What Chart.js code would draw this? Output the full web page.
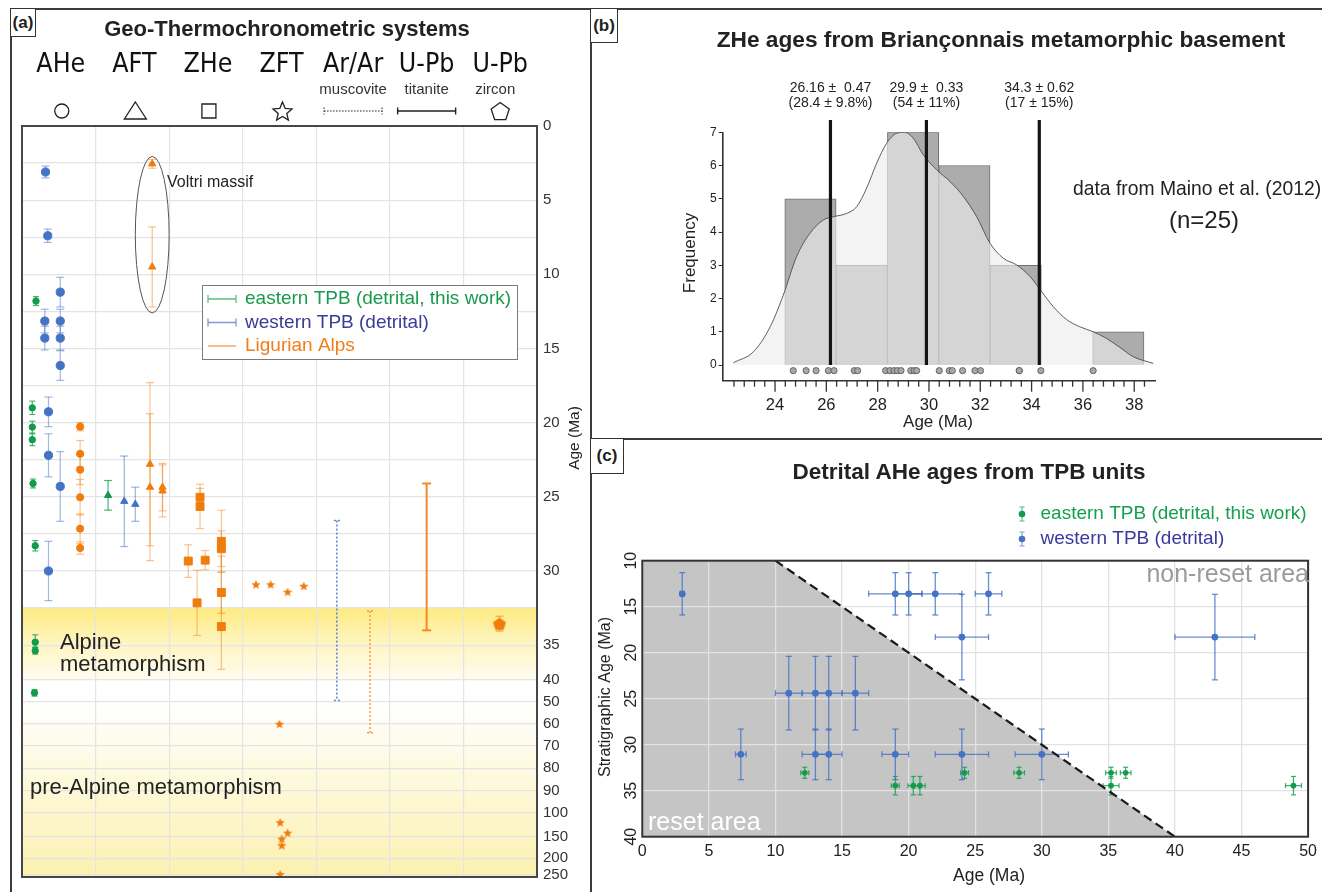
<!DOCTYPE html>
<html>
<head>
<meta charset="utf-8">
<script src="https://cdn.jsdelivr.net/npm/chart.js@4.4.1/dist/chart.umd.min.js"></script>
<style>
  body { margin: 0; width: 1322px; height: 892px; overflow: hidden; position: relative; background: #fff;
         font-family: "Liberation Sans", Arial, sans-serif; color: #222; }
  canvas { position: absolute; }
  .ln { position: absolute; background: #3c3c3c; }
  .box { position: absolute; box-sizing: border-box; border: 1.5px solid #333; background: #fff;
         font: bold 17px "Liberation Sans", Arial, sans-serif; display: flex; align-items: center; justify-content: center; }
  .t { position: absolute; white-space: nowrap; transform: translate(-50%, -50%); }
  .tl { position: absolute; white-space: nowrap; transform-origin: left center; transform: translate(0, -50%) scaleX(0.92); }
</style>
</head>
<body>
<div class="ln" style="left:10px;top:8px;width:1312px;height:2px"></div>
<div class="ln" style="left:10px;top:8px;width:2px;height:884px"></div>
<div class="ln" style="left:590px;top:8px;width:2px;height:884px"></div>
<div class="ln" style="left:590px;top:438px;width:732px;height:2px"></div>

<canvas id="chartA" width="590" height="892" style="left:0;top:0"></canvas>
<canvas id="chartB" width="731" height="430" style="left:591px;top:9px"></canvas>
<canvas id="chartC" width="731" height="453" style="left:591px;top:439px"></canvas>

<div class="box" style="left:10px;top:8px;width:26px;height:29px">(a)</div>
<div class="box" style="left:590px;top:8px;width:28px;height:35px">(b)</div>
<div class="box" style="left:590px;top:438px;width:34px;height:36px">(c)</div>

<div class="t" style="left:287px;top:29px;font-weight:bold;font-size:22px">Geo-Thermochronometric systems</div>
<div class="t" style="left:1001px;top:39px;font-weight:bold;font-size:22.7px">ZHe ages from Briançonnais metamorphic basement</div>
<div class="t" style="left:969px;top:472px;font-weight:bold;font-size:22.5px">Detrital AHe ages from TPB units</div>
<div class="tl" style="left:1073px;top:188px;font-size:21px">data from Maino et al. (2012)</div>
<div class="t" style="left:1204px;top:220px;font-size:24px">(n=25)</div>

<script>
// ---- panel (a): ages per system, [x inside the 7 columns, age Ma, ± Ma] ----
const sysNames = ['AHe', 'AFT', 'ZHe', 'ZFT', 'Ar/Ar', 'U-Pb', 'U-Pb'];
const sysMinerals = ['', '', '', '', 'muscovite', 'titanite', 'zircon'];
const sysSymbols = ['circle', 'triangle', 'rect', 'star', 'dotted', 'solid', 'pentagon'];

const aheEast = [[0.19, 11.8, 0.3], [0.14, 19.0, 0.45], [0.14, 20.3, 0.4], [0.14, 21.15, 0.4], [0.15, 24.1, 0.3],
                 [0.18, 28.3, 0.35], [0.18, 34.8, 0.5], [0.18, 35.8, 0.5], [0.17, 46, 1.5]];
const aheWest = [[0.32, 3.1, 0.4], [0.35, 7.4, 0.45], [0.52, 11.2, 1.0], [0.31, 13.15, 0.8], [0.31, 14.3, 0.8],
                 [0.52, 13.15, 0.8], [0.52, 14.3, 0.8], [0.52, 16.15, 1.0], [0.36, 19.27, 1.0], [0.36, 22.2, 1.45],
                 [0.52, 24.3, 2.35], [0.36, 30.0, 2.0]];
const aheLig = [[0.79, 20.27, 0.28], [0.79, 22.1, 0.9], [0.79, 23.17, 1.0], [0.79, 25.03, 1.2], [0.79, 27.15, 1.0], [0.79, 28.45, 0.42]];
const aftEast = [[1.17, 24.9, 1.0]];
const aftWest = [[1.39, 25.3, 3.05], [1.54, 25.5, 1.15]];
const aftLig = [[1.77, 2.55, 0.3], [1.77, 9.5, 2.7], [1.74, 22.8, 5.5], [1.74, 24.35, 4.95], [1.91, 24.35, 1.6], [1.91, 24.6, 1.75]];
const zheLig = [[2.42, 25.03, 0.6], [2.42, 25.65, 1.5], [2.26, 29.33, 1.1], [2.49, 29.27, 0.65], [2.71, 28.0, 2.1],
                [2.71, 28.5, 1.2], [2.71, 31.45, 1.4], [2.71, 33.75, 4.75], [2.38, 32.15, 2.2]];
const zftLig = [[3.18, 30.9], [3.38, 30.9], [3.61, 31.4], [3.83, 31.0], [3.50, 60], [3.51, 120], [3.61, 142], [3.53, 155], [3.53, 170], [3.51, 247]];
// age ranges [x, from Ma, to Ma]
const arArWest = [[4.28, 26.6, 49.5]];
const arArLig = [[4.73, 32.7, 64]];
const upbTitLig = [[5.50, 24.1, 34.0]];
const upbZrnLig = [[6.49, 33.55, 0.5]];
const ageTicksA = [0, 2.5, 5, 7.5, 10, 12.5, 15, 17.5, 20, 22.5, 25, 27.5, 30, 32.5, 35, 40, 50, 60, 70, 80, 90, 100, 150, 200, 250];

// ---- panel (b): ZHe histogram ----
const binStart = [24.38, 26.38, 28.38, 30.38, 32.38, 34.38, 36.38];
const binCount = [5, 3, 7, 6, 3, 0, 1];
const kdeAge = [22.38, 23.16, 23.81, 24.32, 24.84, 25.36, 25.88, 26.27, 26.79, 27.18, 27.57, 27.96, 28.35, 28.74, 29.06, 29.39,
                29.78, 30.30, 30.82, 31.34, 31.86, 32.38, 32.90, 33.42, 33.94, 34.39, 34.84, 35.36, 35.88, 36.40, 36.92, 37.44, 37.96, 38.74];
const kdeFreq = [0.07, 0.40, 1.15, 2.1, 3.26, 3.96, 4.36, 4.46, 4.56, 4.76, 5.32, 6.07, 6.67, 6.97, 7.0, 6.82,
                 6.32, 5.87, 5.52, 5.07, 4.46, 3.66, 3.21, 3.01, 2.66, 2.21, 1.76, 1.37, 1.15, 1.0, 0.80, 0.53, 0.25, 0.05];
const zheAges = [24.71, 25.21, 25.60, 26.08, 26.30, 27.09, 27.22, 28.31, 28.48, 28.64, 28.77, 28.91, 29.29, 29.42, 29.52,
                 30.40, 30.79, 30.91, 31.31, 31.79, 32.01, 33.52, 33.52, 34.36, 36.40];
const peakAge = [26.16, 29.9, 34.3];
const peakText = ['26.16 ±  0.47', '29.9 ±  0.33', '34.3 ± 0.62'];
const peakProp = ['(28.4 ± 9.8%)', '(54 ± 11%)', '(17 ± 15%)'];
const xTicksB = [24, 26, 28, 30, 32, 34, 36, 38];
const yTicksB = [0, 1, 2, 3, 4, 5, 6, 7];

// ---- panel (c): [AHe age, ±, stratigraphic age, ±] ----
const westTPB = [[3.0, 0.15, 13.6, 2.3], [19.0, 2, 13.6, 2.3], [20.0, 1, 13.6, 2.3], [22.0, 2, 13.6, 2.3], [26.0, 1, 13.6, 2.3],
                 [24.0, 2, 18.3, 4.65], [43.0, 3, 18.3, 4.65],
                 [11.0, 1, 24.4, 4.0], [13.0, 1, 24.4, 4.0], [14.0, 1, 24.4, 4.0], [16.0, 1, 24.4, 4.0],
                 [7.4, 0.4, 31.05, 2.75], [13.0, 1, 31.05, 2.75], [14.0, 1, 31.05, 2.75], [19.0, 1, 31.05, 2.75],
                 [24.0, 2, 31.05, 2.75], [30.0, 2, 31.05, 2.75]];
const eastTPB = [[12.2, 0.3, 33.05, 0.6], [24.2, 0.3, 33.05, 0.6], [28.3, 0.4, 33.05, 0.6], [35.2, 0.4, 33.05, 0.6], [36.3, 0.4, 33.05, 0.6],
                 [19.0, 0.3, 34.45, 1.0], [20.35, 0.4, 34.45, 1.0], [20.85, 0.4, 34.45, 1.0], [35.2, 0.6, 34.45, 1.0], [48.9, 0.6, 34.45, 1.0]];
const resetLine = [[10, 10], [40, 40]];
const xTicksC = [0, 5, 10, 15, 20, 25, 30, 35, 40, 45, 50];
const yTicksC = [10, 15, 20, 25, 30, 35, 40];

const SANS = '"Liberation Sans", Arial, sans-serif';
const GREEN = '#119b4b', BLUE = '#4472c4', ORANGE = '#f07c0c';

function text(ctx, s, x, y, font, color, align, rot) {
  ctx.save();
  ctx.translate(x, y);
  if (rot) ctx.rotate(rot);
  ctx.font = font;
  ctx.fillStyle = color;
  ctx.textAlign = align || 'left';
  ctx.textBaseline = 'middle';
  ctx.fillText(s, 0, 0);
  ctx.restore();
}

function polyPath(ctx, x, y, R, inner) {
  const n = inner ? 10 : 5;
  for (let i = 0; i < n; i++) {
    const r = inner && i % 2 ? R * inner : R;
    const a = -Math.PI / 2 + i * 2 * Math.PI / n;
    if (i === 0) ctx.moveTo(x + r * Math.cos(a), y + r * Math.sin(a));
    else ctx.lineTo(x + r * Math.cos(a), y + r * Math.sin(a));
  }
  ctx.closePath();
}

function markImg(R, inner, color) {
  const c = document.createElement('canvas');
  c.width = c.height = Math.ceil(R * 2 + 2);
  const g = c.getContext('2d');
  g.fillStyle = color;
  g.beginPath();
  polyPath(g, c.width / 2, c.height / 2 + (inner ? 0.5 : 0.7), R, inner);
  g.fill();
  return c;
}
const starImg = markImg(4.8, 0.45, ORANGE);
const pentImg = markImg(6.8, null, ORANGE);

// error bars drawn through the chart scales
const errorBars = {
  id: 'errorBars',
  beforeDatasetsDraw(chart) {
    const ctx = chart.ctx, xs = chart.scales.x, ys = chart.scales.y;
    chart.data.datasets.forEach(ds => {
      if (!ds.errColor) return;
      ctx.save();
      ctx.strokeStyle = ds.errColor;
      ctx.lineWidth = ds.errWidth || 1.2;
      ctx.setLineDash(ds.errDash || []);
      const cap = ds.cap || 3;
      const seg = (x1, y1, x2, y2) => { ctx.beginPath(); ctx.moveTo(x1, y1); ctx.lineTo(x2, y2); ctx.stroke(); };
      ds.data.forEach(p => {
        const px = xs.getPixelForValue(p.x), py = ys.getPixelForValue(p.y);
        const lo = p.lo !== undefined ? p.lo : (p.ye ? p.y - p.ye : null);
        const hi = p.hi !== undefined ? p.hi : (p.ye ? p.y + p.ye : null);
        if (lo !== null) {
          const a = ys.getPixelForValue(lo), b = ys.getPixelForValue(hi);
          seg(px, a, px, b); seg(px - cap, a, px + cap, a); seg(px - cap, b, px + cap, b);
        }
        if (p.xe) {
          const a = xs.getPixelForValue(p.x - p.xe), b = xs.getPixelForValue(p.x + p.xe);
          seg(a, py, b, py); seg(a, py - cap, a, py + cap); seg(b, py - cap, b, py + cap);
        }
      });
      ctx.restore();
    });
  }
};

// broken age axis of panel (a): linear to 35 Ma, compressed below
const BREAK_AGE = [0, 35, 40, 50, 100, 150, 200, 250, 256];
const BREAK_POS = [0, 35, 37.33, 38.8, 46.3, 47.9, 49.37, 50.5, 50.63];
function fold(v) {
  for (let i = 1; i < BREAK_AGE.length; i++) {
    if (v <= BREAK_AGE[i] || i === BREAK_AGE.length - 1) {
      return BREAK_POS[i - 1] + (v - BREAK_AGE[i - 1]) * (BREAK_POS[i] - BREAK_POS[i - 1]) / (BREAK_AGE[i] - BREAK_AGE[i - 1]);
    }
  }
}
function unfold(u) {
  for (let i = 1; i < BREAK_POS.length; i++) {
    if (u <= BREAK_POS[i] || i === BREAK_POS.length - 1) {
      return BREAK_AGE[i - 1] + (u - BREAK_POS[i - 1]) * (BREAK_AGE[i] - BREAK_AGE[i - 1]) / (BREAK_POS[i] - BREAK_POS[i - 1]);
    }
  }
}
class BrokenScale extends Chart.LinearScale {
  getPixelForValue(v) { return this.getPixelForDecimal(fold(v) / fold(this.max)); }
  getValueForPixel(p) { return unfold(this.getDecimalForPixel(p) * fold(this.max)); }
}
BrokenScale.id = 'broken';
BrokenScale.defaults = Chart.LinearScale.defaults;
Chart.register(BrokenScale);

const pts = rows => rows.map(r => ({ x: r[0], y: r[1], ye: r[2] }));
const ranges = rows => rows.map(r => ({ x: r[0], y: (r[1] + r[2]) / 2, lo: r[1], hi: r[2] }));

function drawSym(ctx, kind, x, y) {
  ctx.save();
  ctx.strokeStyle = '#222';
  ctx.lineWidth = 1.3;
  ctx.beginPath();
  if (kind === 'circle') ctx.arc(x, y, 7, 0, Math.PI * 2);
  if (kind === 'triangle') { ctx.moveTo(x, y - 9); ctx.lineTo(x + 11, y + 8); ctx.lineTo(x - 11, y + 8); ctx.closePath(); }
  if (kind === 'rect') ctx.rect(x - 7, y - 7, 14, 14);
  if (kind === 'star') polyPath(ctx, x, y + 1, 10, 0.45);
  if (kind === 'pentagon') polyPath(ctx, x, y + 1, 9.5, null);
  if (kind === 'dotted' || kind === 'solid') {
    ctx.lineWidth = kind === 'solid' ? 1.4 : 1;
    if (kind === 'dotted') ctx.setLineDash([1.5, 1.5]);
    ctx.moveTo(x - 29, y); ctx.lineTo(x + 29, y);
    ctx.moveTo(x - 29, y - 3.5); ctx.lineTo(x - 29, y + 3.5);
    ctx.moveTo(x + 29, y - 3.5); ctx.lineTo(x + 29, y + 3.5);
  }
  ctx.stroke();
  ctx.restore();
}

const decorA = {
  id: 'decorA',
  beforeDraw(chart) {
    const ctx = chart.ctx, ys = chart.scales.y, a = chart.chartArea;
    // Alpine metamorphism band
    let y0 = ys.getPixelForValue(32.5), y1 = ys.getPixelForValue(40);
    let g = ctx.createLinearGradient(0, y0, 0, y1);
    g.addColorStop(0, '#fdeb80'); g.addColorStop(0.5, '#fef5c2'); g.addColorStop(1, '#fffcef');
    ctx.fillStyle = g; ctx.fillRect(a.left, y0, a.right - a.left, y1 - y0);
    // pre-Alpine band
    y0 = ys.getPixelForValue(50); y1 = a.bottom;
    g = ctx.createLinearGradient(0, y0, 0, y1);
    g.addColorStop(0, '#ffffff'); g.addColorStop(1, '#fcf1b0');
    ctx.fillStyle = g; ctx.fillRect(a.left, y0, a.right - a.left, y1 - y0);
  },
  afterDraw(chart) {
    const ctx = chart.ctx, xs = chart.scales.x, ys = chart.scales.y, a = chart.chartArea;
    ctx.save();
    ctx.strokeStyle = '#474747'; ctx.lineWidth = 2;
    ctx.strokeRect(a.left, a.top, a.right - a.left, a.bottom - a.top);
    ctx.restore();

    // header: systems, minerals and symbols
    sysNames.forEach((name, i) => {
      const cx = xs.getPixelForValue(i + 0.5);
      ctx.save();
      ctx.translate(cx + (i < 4 ? 2 : 0), 65);
      ctx.scale(0.9, 1);
      ctx.font = '26.5px "DejaVu Sans", "Liberation Sans", sans-serif';
      ctx.fillStyle = '#111'; ctx.textAlign = 'center'; ctx.textBaseline = 'middle';
      ctx.fillText(name, 0, 0);
      ctx.restore();
      if (sysMinerals[i]) text(ctx, sysMinerals[i], cx - (i === 6 ? 5 : 0), 90, '15px ' + SANS, '#333', 'center');
      drawSym(ctx, sysSymbols[i], cx + (i < 4 ? 3 : 0), 111);
    });

    text(ctx, 'Age (Ma)', 575, 438, '15.5px ' + SANS, '#222', 'center', -Math.PI / 2);
    text(ctx, 'Alpine', 60, 643, '22px ' + SANS, '#222');
    text(ctx, 'metamorphism', 60, 665, '22px ' + SANS, '#222');
    text(ctx, 'pre-Alpine metamorphism', 30, 788, '22px ' + SANS, '#222');

    // Voltri massif ellipse
    const ex = xs.getPixelForValue(1.77), et = ys.getPixelForValue(2.05), eb = ys.getPixelForValue(12.6);
    const rx = xs.getPixelForValue(2.0) - ex;
    ctx.save();
    ctx.strokeStyle = '#555'; ctx.lineWidth = 1;
    ctx.beginPath(); ctx.ellipse(ex, (et + eb) / 2, rx, (eb - et) / 2, 0, 0, Math.PI * 2); ctx.stroke();
    ctx.restore();
    text(ctx, 'Voltri massif', 167, 183, '16px ' + SANS, '#222');

    // legend
    ctx.save();
    ctx.fillStyle = '#fff'; ctx.fillRect(202, 285, 315, 74);
    ctx.strokeStyle = '#7a7a7a'; ctx.lineWidth = 1; ctx.strokeRect(202.5, 285.5, 315, 74);
    const items = [['eastern TPB (detrital, this work)', '#1a9a4e', '#5cbf7f', true],
                   ['western TPB (detrital)', '#3c3a98', '#7f98d6', true],
                   ['Ligurian Alps', '#f27d1a', '#f49a48', false]];
    items.forEach((it, i) => {
      const y = 299 + i * 23.5;
      ctx.strokeStyle = it[2]; ctx.lineWidth = 1.3;
      ctx.beginPath(); ctx.moveTo(208, y); ctx.lineTo(236, y);
      if (it[3]) { ctx.moveTo(208, y - 4); ctx.lineTo(208, y + 4); ctx.moveTo(236, y - 4); ctx.lineTo(236, y + 4); }
      ctx.stroke();
      text(ctx, it[0], 245, y, '19px ' + SANS, it[1]);
    });
    ctx.restore();
  }
};

new Chart(document.getElementById('chartA'), {
  type: 'scatter',
  data: {
    datasets: [
      { data: pts(aheEast), pointStyle: 'circle', pointRadius: 3.2, backgroundColor: GREEN, borderColor: GREEN, errColor: 'rgba(17,155,75,0.75)', cap: 3 },
      { data: pts(aheWest), pointStyle: 'circle', pointRadius: 4.1, backgroundColor: BLUE, borderColor: BLUE, errColor: 'rgba(68,114,196,0.5)', cap: 4 },
      { data: pts(aheLig), pointStyle: 'circle', pointRadius: 3.6, backgroundColor: ORANGE, borderColor: ORANGE, errColor: 'rgba(240,124,12,0.45)', cap: 4 },
      { data: pts(aftEast), pointStyle: 'triangle', pointRadius: 4.2, backgroundColor: GREEN, borderColor: GREEN, errColor: 'rgba(17,155,75,0.75)', cap: 4 },
      { data: pts(aftWest), pointStyle: 'triangle', pointRadius: 4.2, backgroundColor: BLUE, borderColor: BLUE, errColor: 'rgba(68,114,196,0.55)', cap: 4 },
      { data: pts(aftLig), pointStyle: 'triangle', pointRadius: 4.2, backgroundColor: ORANGE, borderColor: ORANGE, errColor: 'rgba(240,124,12,0.45)', cap: 4 },
      { data: pts(zheLig), pointStyle: 'rect', pointRadius: 5.6, backgroundColor: ORANGE, borderColor: ORANGE, errColor: 'rgba(240,124,12,0.45)', cap: 4 },
      { data: pts(zftLig), pointStyle: starImg, pointRadius: 5 },
      { data: ranges(arArWest), pointRadius: 0, errColor: '#5a7fd2', errDash: [2, 2], errWidth: 1.5, cap: 3 },
      { data: ranges(arArLig), pointRadius: 0, errColor: '#f39a48', errDash: [2, 2], errWidth: 1.5, cap: 3 },
      { data: ranges(upbTitLig), pointRadius: 0, errColor: '#f28a2a', errWidth: 2, cap: 4.5 },
      { data: pts(upbZrnLig), pointStyle: pentImg, pointRadius: 7, errColor: 'rgba(240,124,12,0.6)', cap: 4 }
    ]
  },
  options: {
    responsive: false, animation: false, events: [],
    layout: { padding: { left: 22, top: 126, right: 0, bottom: 5 }, autoPadding: false },
    plugins: { legend: { display: false }, tooltip: { enabled: false } },
    scales: {
      x: {
        type: 'linear', min: 0, max: 7,
        afterBuildTicks: s => { s.ticks = sysNames.map((n, i) => ({ value: i })).concat([{ value: 7 }]); },
        afterFit: s => { s.height = 0; },
        ticks: { display: false },
        grid: { color: '#e4e4e4', lineWidth: 1.2, drawTicks: false },
        border: { display: false }
      },
      y: {
        type: 'broken', position: 'right', min: 0, max: 256, reverse: true,
        afterBuildTicks: s => { s.ticks = ageTicksA.map(v => ({ value: v })); },
        afterFit: s => { s.width = 53; },
        ticks: { autoSkip: false, padding: 6, color: '#333', font: { size: 15, family: SANS },
                 callback: v => (v < 35 && v % 5) ? '' : String(v) },
        grid: { color: '#e4e4e4', lineWidth: 1.2, drawTicks: false },
        border: { display: false }
      }
    }
  },
  plugins: [decorA, errorBars]
});

// ---- panel (b) ----
const decorB = {
  id: 'decorB',
  afterDraw(chart) {
    const ctx = chart.ctx, xs = chart.scales.x, a = chart.chartArea;
    ctx.save();
    ctx.strokeStyle = '#333'; ctx.lineWidth = 1.3;
    for (let k = 56; k <= 96; k++) {
      const px = xs.getPixelForValue(k * 0.4);
      ctx.beginPath(); ctx.moveTo(px, a.bottom); ctx.lineTo(px, a.bottom + (k % 5 === 0 ? 11 : 6)); ctx.stroke();
    }
    ctx.restore();
    peakAge.forEach((v, i) => {
      const px = xs.getPixelForValue(v);
      text(ctx, peakText[i], px, 79, '14px ' + SANS, '#222', 'center');
      text(ctx, peakProp[i], px, 94, '14px ' + SANS, '#222', 'center');
    });
    text(ctx, 'Frequency', 99, 244, '17px ' + SANS, '#222', 'center', -Math.PI / 2);
    text(ctx, 'Age (Ma)', 347, 413, '17px ' + SANS, '#222', 'center');
  }
};

new Chart(document.getElementById('chartB'), {
  type: 'scatter',
  data: {
    datasets: [
      { type: 'bar', data: binStart.map((s, i) => ({ x: s + 1, y: binCount[i] })), backgroundColor: '#acacac',
        borderColor: '#6f6f6f', borderWidth: 1, borderSkipped: false, barPercentage: 1, categoryPercentage: 1, order: 3 },
      { type: 'line', data: kdeAge.map((v, i) => ({ x: v, y: kdeFreq[i] })), fill: 'origin',
        backgroundColor: 'rgba(236,236,236,0.64)', borderColor: '#4d4d4d', borderWidth: 0.9, pointRadius: 0,
        cubicInterpolationMode: 'monotone', order: 2 },
      ...peakAge.map(v => ({ type: 'line', data: [{ x: v, y: 0 }, { x: v, y: 7.37 }], borderColor: '#141414',
        borderWidth: 3.2, pointRadius: 0, clip: false, order: 1 })),
      { type: 'scatter', data: zheAges.map(v => ({ x: v, y: -0.17 })), pointRadius: 3.1, backgroundColor: '#a8a8a8',
        borderColor: '#505050', borderWidth: 0.8, order: 0 }
    ]
  },
  options: {
    responsive: false, animation: false, events: [],
    layout: { padding: { left: 0, top: 123.3, right: 167, bottom: 0 }, autoPadding: false },
    plugins: { legend: { display: false }, tooltip: { enabled: false } },
    scales: {
      x: {
        type: 'linear', min: 21.96, max: 38.81, offset: false,
        afterBuildTicks: s => { s.ticks = xTicksB.map(v => ({ value: v })); },
        afterFit: s => { s.height = 58.3; },
        ticks: { padding: 15, color: '#222', font: { size: 16.5, family: SANS }, autoSkip: false, maxRotation: 0 },
        grid: { display: false, drawTicks: false },
        border: { display: true, color: '#333', width: 1.6 }
      },
      y: {
        type: 'linear', min: -0.472, max: 7,
        afterBuildTicks: s => { s.ticks = yTicksB.map(v => ({ value: v })); },
        afterFit: s => { s.width = 131.7; },
        ticks: { padding: 2, color: '#222', font: { size: 12, family: SANS } },
        grid: { drawOnChartArea: false, drawTicks: true, tickLength: 4, color: '#333' },
        border: { display: true, color: '#333', width: 1.6 }
      }
    }
  },
  plugins: [decorB]
});

// ---- panel (c) ----
const decorC = {
  id: 'decorC',
  beforeDraw(chart) {
    const ctx = chart.ctx, xs = chart.scales.x, ys = chart.scales.y;
    ctx.save();
    ctx.fillStyle = '#c5c5c5';
    ctx.beginPath();
    ctx.moveTo(xs.getPixelForValue(xs.min), ys.getPixelForValue(resetLine[0][1]));
    resetLine.forEach(p => ctx.lineTo(xs.getPixelForValue(p[0]), ys.getPixelForValue(p[1])));
    ctx.lineTo(xs.getPixelForValue(xs.min), ys.getPixelForValue(resetLine[1][1]));
    ctx.closePath(); ctx.fill();
    ctx.restore();
  },
  afterDraw(chart) {
    const ctx = chart.ctx, ys = chart.scales.y, a = chart.chartArea;
    ctx.save();
    ctx.strokeStyle = '#333'; ctx.lineWidth = 2;
    ctx.strokeRect(a.left, a.top, a.right - a.left, a.bottom - a.top);
    ctx.restore();
    yTicksC.forEach(v => text(ctx, String(v), 41, ys.getPixelForValue(v), '16px ' + SANS, '#222', 'center', -Math.PI / 2));
    text(ctx, 'Stratigraphic Age (Ma)', 15, 258, '16px ' + SANS, '#222', 'center', -Math.PI / 2);
    text(ctx, 'Age (Ma)', 398, 437, '17.5px ' + SANS, '#222', 'center');
    text(ctx, 'non-reset area', 718, 136, '25px ' + SANS, '#9b9b9b', 'right');
    text(ctx, 'reset area', 57, 384, '25px ' + SANS, '#ffffff');
    // legend
    [['eastern TPB (detrital, this work)', '#15a050', GREEN], ['western TPB (detrital)', '#3b389e', BLUE]].forEach((it, i) => {
      const x = 431, y = 75 + i * 25;
      ctx.save();
      ctx.strokeStyle = it[2]; ctx.globalAlpha = 0.7; ctx.lineWidth = 1.1;
      ctx.beginPath(); ctx.moveTo(x, y - 7); ctx.lineTo(x, y + 7);
      ctx.moveTo(x - 2.5, y - 7); ctx.lineTo(x + 2.5, y - 7); ctx.moveTo(x - 2.5, y + 7); ctx.lineTo(x + 2.5, y + 7);
      ctx.stroke();
      ctx.globalAlpha = 1; ctx.fillStyle = it[2];
      ctx.beginPath(); ctx.arc(x, y, 3.3, 0, Math.PI * 2); ctx.fill();
      ctx.restore();
      text(ctx, it[0], 449.5, y, '19px ' + SANS, it[1]);
    });
  }
};

new Chart(document.getElementById('chartC'), {
  type: 'scatter',
  data: {
    datasets: [
      { data: eastTPB.map(r => ({ x: r[0], xe: r[1], y: r[2], ye: r[3] })), pointRadius: 2.8, backgroundColor: GREEN,
        borderColor: GREEN, borderWidth: 0, errColor: 'rgba(17,160,78,0.85)', errWidth: 1.2, cap: 2.5 },
      { data: westTPB.map(r => ({ x: r[0], xe: r[1], y: r[2], ye: r[3] })), pointRadius: 3.4, backgroundColor: BLUE,
        borderColor: BLUE, borderWidth: 0, errColor: 'rgba(68,114,196,0.8)', errWidth: 1.3, cap: 3 },
      { type: 'line', data: resetLine.map(p => ({ x: p[0], y: p[1] })), borderColor: '#1a1a1a', borderWidth: 2.2,
        borderDash: [9, 5], pointRadius: 0 }
    ]
  },
  options: {
    responsive: false, animation: false, events: [],
    layout: { padding: { left: 0, top: 121.7, right: 8.4, bottom: 0 }, autoPadding: false },
    plugins: { legend: { display: false }, tooltip: { enabled: false } },
    scales: {
      x: {
        type: 'linear', min: 0, max: 50,
        afterBuildTicks: s => { s.ticks = xTicksC.map(v => ({ value: v })); },
        afterFit: s => { s.height = 55.3; },
        ticks: { padding: 5, color: '#222', font: { size: 16, family: SANS }, autoSkip: false, maxRotation: 0 },
        grid: { color: '#e2e2e2', lineWidth: 1.3, drawTicks: false },
        border: { display: false }
      },
      y: {
        type: 'linear', min: 10, max: 40, reverse: true,
        afterBuildTicks: s => { s.ticks = yTicksC.map(v => ({ value: v })); },
        afterFit: s => { s.width = 51.3; },
        ticks: { display: false },
        grid: { color: '#e2e2e2', lineWidth: 1.3, drawTicks: false },
        border: { display: false }
      }
    }
  },
  plugins: [decorC, errorBars]
});
</script>
</body>
</html>
